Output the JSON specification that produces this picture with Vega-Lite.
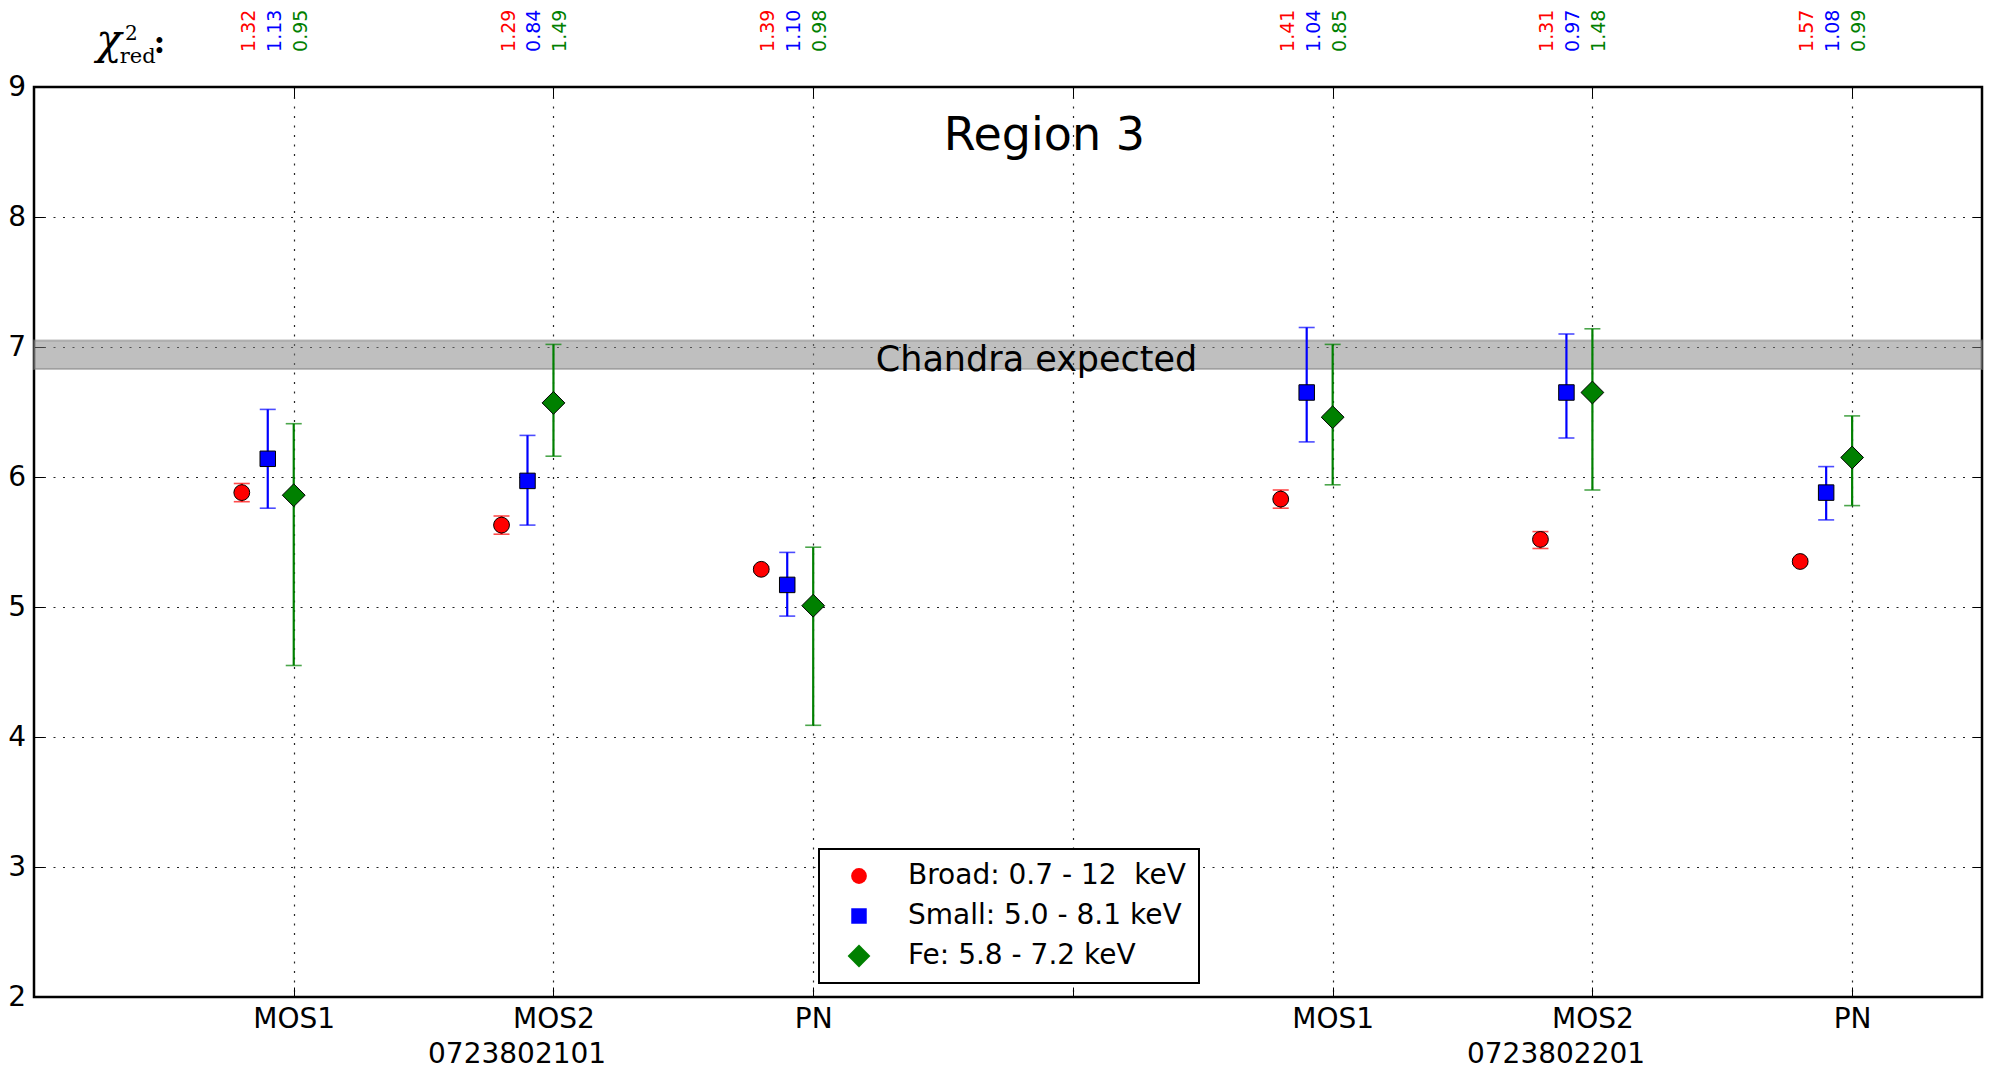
{
  "$schema": "https://vega.github.io/schema/vega-lite/v6.json",
  "width": 1948,
  "height": 910,
  "autosize": {"type": "none"},
  "padding": {"left": 34, "top": 87, "right": 10, "bottom": 73},
  "background": "white",
  "config": {
    "view": {"stroke": "black", "strokeWidth": 2.5},
    "font": "DejaVu Sans",
    "axis": {
      "labelFont": "DejaVu Sans",
      "labelFontSize": 28,
      "labelColor": "black",
      "tickColor": "black",
      "tickWidth": 1,
      "gridColor": "black",
      "gridDash": [2, 7.5],
      "gridWidth": 1.2,
      "gridOpacity": 0.85,
      "domain": false,
      "title": null,
      "zindex": 1
    },
    "legend": {
      "orient": "none",
      "legendX": 785,
      "legendY": 762,
      "labelFontSize": 28,
      "labelFont": "DejaVu Sans",
      "labelColor": "black",
      "labelLimit": 600,
      "strokeColor": "black",
      "strokeWidth": 2,
      "fillColor": "white",
      "padding": 13,
      "symbolOffset": 13,
      "labelOffset": 35,
      "rowPadding": 12,
      "symbolStrokeColor": "black",
      "symbolStrokeWidth": 1,
      "zindex": 2
    }
  },
  "datasets": {
    "pts": [
      {"det": "MOS1", "obs": "0723802101", "band": "Broad: 0.7 - 12\u00a0 keV", "pos": 0.8, "value": 5.88, "lo": 5.81, "hi": 5.95, "chi": "1.32"},
      {"det": "MOS1", "obs": "0723802101", "band": "Small: 5.0 - 8.1 keV", "pos": 0.9, "value": 6.14, "lo": 5.76, "hi": 6.52, "chi": "1.13"},
      {"det": "MOS1", "obs": "0723802101", "band": "Fe: 5.8 - 7.2 keV", "pos": 1.0, "value": 5.86, "lo": 4.55, "hi": 6.41, "chi": "0.95"},
      {"det": "MOS2", "obs": "0723802101", "band": "Broad: 0.7 - 12\u00a0 keV", "pos": 1.8, "value": 5.63, "lo": 5.56, "hi": 5.70, "chi": "1.29"},
      {"det": "MOS2", "obs": "0723802101", "band": "Small: 5.0 - 8.1 keV", "pos": 1.9, "value": 5.97, "lo": 5.63, "hi": 6.32, "chi": "0.84"},
      {"det": "MOS2", "obs": "0723802101", "band": "Fe: 5.8 - 7.2 keV", "pos": 2.0, "value": 6.57, "lo": 6.16, "hi": 7.02, "chi": "1.49"},
      {"det": "PN", "obs": "0723802101", "band": "Broad: 0.7 - 12\u00a0 keV", "pos": 2.8, "value": 5.29, "lo": 5.27, "hi": 5.31, "chi": "1.39"},
      {"det": "PN", "obs": "0723802101", "band": "Small: 5.0 - 8.1 keV", "pos": 2.9, "value": 5.17, "lo": 4.93, "hi": 5.42, "chi": "1.10"},
      {"det": "PN", "obs": "0723802101", "band": "Fe: 5.8 - 7.2 keV", "pos": 3.0, "value": 5.01, "lo": 4.09, "hi": 5.46, "chi": "0.98"},
      {"det": "MOS1", "obs": "0723802201", "band": "Broad: 0.7 - 12\u00a0 keV", "pos": 4.8, "value": 5.83, "lo": 5.76, "hi": 5.90, "chi": "1.41"},
      {"det": "MOS1", "obs": "0723802201", "band": "Small: 5.0 - 8.1 keV", "pos": 4.9, "value": 6.65, "lo": 6.27, "hi": 7.15, "chi": "1.04"},
      {"det": "MOS1", "obs": "0723802201", "band": "Fe: 5.8 - 7.2 keV", "pos": 5.0, "value": 6.46, "lo": 5.94, "hi": 7.02, "chi": "0.85"},
      {"det": "MOS2", "obs": "0723802201", "band": "Broad: 0.7 - 12\u00a0 keV", "pos": 5.8, "value": 5.52, "lo": 5.45, "hi": 5.58, "chi": "1.31"},
      {"det": "MOS2", "obs": "0723802201", "band": "Small: 5.0 - 8.1 keV", "pos": 5.9, "value": 6.65, "lo": 6.30, "hi": 7.10, "chi": "0.97"},
      {"det": "MOS2", "obs": "0723802201", "band": "Fe: 5.8 - 7.2 keV", "pos": 6.0, "value": 6.65, "lo": 5.90, "hi": 7.14, "chi": "1.48"},
      {"det": "PN", "obs": "0723802201", "band": "Broad: 0.7 - 12\u00a0 keV", "pos": 6.8, "value": 5.35, "lo": 5.33, "hi": 5.37, "chi": "1.57"},
      {"det": "PN", "obs": "0723802201", "band": "Small: 5.0 - 8.1 keV", "pos": 6.9, "value": 5.88, "lo": 5.67, "hi": 6.08, "chi": "1.08"},
      {"det": "PN", "obs": "0723802201", "band": "Fe: 5.8 - 7.2 keV", "pos": 7.0, "value": 6.15, "lo": 5.78, "hi": 6.47, "chi": "0.99"}
    ],
    "chandra": [{"lo": 6.83, "hi": 7.05, "label": "Chandra expected"}],
    "obsids": [{"obs": "0723802101", "pos": 1.86}, {"obs": "0723802201", "pos": 5.86}]
  },
  "resolve": {"axis": {"x": "independent", "y": "independent"}},
  "layer": [
    {
      "data": {"name": "chandra"},
      "mark": {"type": "rect", "fill": "#808080", "fillOpacity": 0.5, "stroke": "#808080", "strokeOpacity": 0.5, "strokeWidth": 2},
      "encoding": {
        "y": {"field": "lo", "type": "quantitative", "scale": {"domain": [2, 9], "nice": false, "zero": false}, "axis": null},
        "y2": {"field": "hi"}
      }
    },
    {
      "data": {"name": "pts"},
      "mark": {"type": "errorbar", "thickness": 2.2, "ticks": {"size": 16, "thickness": 1.6}},
      "encoding": {
        "x": {"field": "pos", "type": "quantitative", "scale": {"domain": [0, 7.5], "nice": false, "zero": false}, "axis": null},
        "y": {"field": "lo", "type": "quantitative", "axis": null},
        "y2": {"field": "hi"},
        "color": {"field": "band", "type": "nominal", "scale": {"domain": ["Fe: 5.8 - 7.2 keV", "Broad: 0.7 - 12\u00a0 keV", "Small: 5.0 - 8.1 keV"], "range": ["#008000", "#ff0000", "#0000ff"]}, "legend": null}
      }
    },
    {
      "data": {"name": "pts"},
      "mark": {"type": "point", "filled": true, "opacity": 1, "stroke": "black", "strokeWidth": 1},
      "encoding": {
        "x": {
          "field": "pos", "type": "quantitative",
          "axis": {
            "orient": "bottom",
            "values": [1, 2, 3, 4, 5, 6, 7],
            "grid": true,
            "tickSize": -10,
            "labelPadding": 18,
            "labelExpr": "datum.value == 1 ? 'MOS1' : datum.value == 2 ? 'MOS2' : datum.value == 3 ? 'PN' : datum.value == 5 ? 'MOS1' : datum.value == 6 ? 'MOS2' : datum.value == 7 ? 'PN' : ''"
          }
        },
        "y": {
          "field": "value", "type": "quantitative",
          "axis": {"orient": "left", "values": [2, 3, 4, 5, 6, 7, 8, 9], "grid": true, "tickSize": -10, "labelPadding": 18.5}
        },
        "fill": {
          "field": "band", "type": "nominal",
          "scale": {"domain": ["Broad: 0.7 - 12\u00a0 keV", "Small: 5.0 - 8.1 keV", "Fe: 5.8 - 7.2 keV"], "range": ["#ff0000", "#0000ff", "#008000"]},
          "legend": {"title": null, "encode": {"symbols": {"update": {"stroke": {"value": "black"}, "strokeWidth": {"value": 1}}}}}
        },
        "shape": {
          "field": "band", "type": "nominal",
          "scale": {"domain": ["Broad: 0.7 - 12\u00a0 keV", "Small: 5.0 - 8.1 keV", "Fe: 5.8 - 7.2 keV"], "range": ["circle", "square", "diamond"]},
          "legend": {"title": null}
        },
        "size": {
          "field": "band", "type": "nominal",
          "scale": {"type": "ordinal", "domain": ["Broad: 0.7 - 12\u00a0 keV", "Small: 5.0 - 8.1 keV", "Fe: 5.8 - 7.2 keV"], "range": [250, 240, 520]},
          "legend": {"title": null}
        }
      }
    },
    {
      "data": {"name": "pts"},
      "mark": {"type": "point", "opacity": 0},
      "encoding": {
        "x": {"field": "pos", "type": "quantitative", "axis": {"orient": "top", "values": [1, 2, 3, 4, 5, 6, 7], "grid": false, "labels": false, "tickSize": -10}},
        "y": {"field": "value", "type": "quantitative", "axis": {"orient": "right", "values": [2, 3, 4, 5, 6, 7, 8, 9], "grid": false, "labels": false, "tickSize": -10}}
      }
    },
    {
      "data": {"name": "pts"},
      "mark": {"type": "text", "angle": 270, "align": "left", "baseline": "middle", "font": "DejaVu Sans", "fontSize": 19, "xOffset": 7},
      "encoding": {
        "x": {"field": "pos", "type": "quantitative", "axis": null},
        "y": {"datum": 9.27, "axis": null},
        "text": {"field": "chi"},
        "color": {"field": "band", "type": "nominal", "legend": null}
      }
    },
    {
      "data": {"name": "obsids"},
      "mark": {"type": "text", "align": "center", "baseline": "alphabetic", "fontSize": 28, "color": "black"},
      "encoding": {
        "x": {"field": "pos", "type": "quantitative", "axis": null},
        "y": {"datum": 1.496, "axis": null},
        "text": {"field": "obs"}
      }
    },
    {
      "data": {"name": "chandra"},
      "mark": {"type": "text", "align": "center", "baseline": "middle", "fontSize": 35, "color": "black"},
      "encoding": {
        "x": {"datum": 3.86, "axis": null},
        "y": {"datum": 6.9, "axis": null},
        "text": {"field": "label"}
      }
    },
    {
      "data": {"values": [{"t": "Region 3"}]},
      "mark": {"type": "text", "align": "center", "baseline": "alphabetic", "fontSize": 46, "color": "black"},
      "encoding": {
        "x": {"datum": 3.89, "axis": null},
        "y": {"datum": 8.512, "axis": null},
        "text": {"field": "t"}
      }
    },
    {
      "data": {"values": [{"t": "χ"}]},
      "mark": {"type": "text", "align": "left", "baseline": "alphabetic", "font": "DejaVu Serif", "fontStyle": "italic", "fontSize": 42, "color": "black"},
      "encoding": {
        "x": {"datum": 0.24, "axis": null},
        "y": {"datum": 9.255, "axis": null},
        "text": {"field": "t"}
      }
    },
    {
      "data": {"values": [{"t": "2"}]},
      "mark": {"type": "text", "align": "left", "baseline": "alphabetic", "font": "DejaVu Serif", "fontSize": 20, "color": "black"},
      "encoding": {
        "x": {"datum": 0.35, "axis": null},
        "y": {"datum": 9.36, "axis": null},
        "text": {"field": "t"}
      }
    },
    {
      "data": {"values": [{"t": "red"}]},
      "mark": {"type": "text", "align": "left", "baseline": "alphabetic", "font": "DejaVu Serif", "fontSize": 21, "color": "black"},
      "encoding": {
        "x": {"datum": 0.33, "axis": null},
        "y": {"datum": 9.188, "axis": null},
        "text": {"field": "t"}
      }
    },
    {
      "data": {"values": [{"t": ":"}]},
      "mark": {"type": "text", "align": "left", "baseline": "alphabetic", "font": "DejaVu Serif", "fontSize": 32, "fontWeight": "bold", "color": "black"},
      "encoding": {
        "x": {"datum": 0.46, "axis": null},
        "y": {"datum": 9.265, "axis": null},
        "text": {"field": "t"}
      }
    }
  ]
}
